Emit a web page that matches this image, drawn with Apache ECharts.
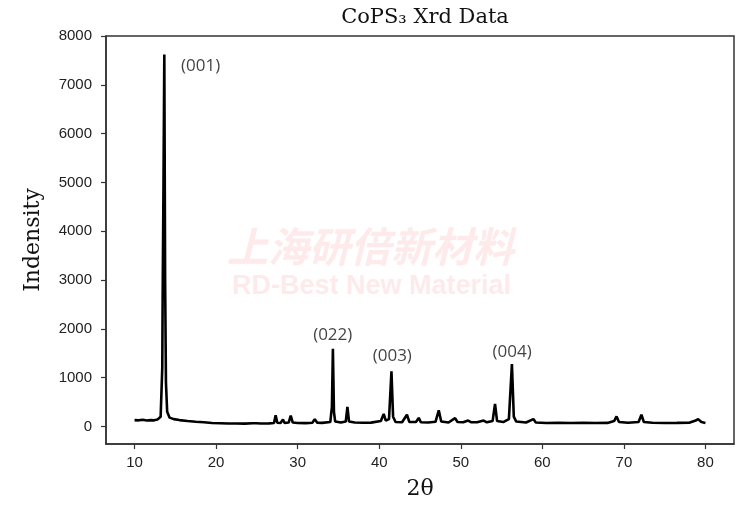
<!DOCTYPE html>
<html>
<head>
<meta charset="utf-8">
<script src="https://cdn.jsdelivr.net/npm/echarts@6/dist/echarts.min.js"></script>
<style>html,body{margin:0;padding:0;background:#fff}#c{width:750px;height:505px}</style>
</head>
<body>
<div id="c"></div>
<script>
const twoTheta = [10.0,10.5,11.0,11.5,12.0,12.4,12.8,13.2,13.4,13.45,13.55,13.65,13.75,13.85,14.0,14.3,14.8,15.5,16.5,17.5,18.5,19.5,20.5,21.5,22.5,23.5,24.5,24.7,24.9,25.5,26.5,27.1,27.3,27.5,27.9,28.2,28.4,28.9,29.15,29.4,30.0,31.0,31.8,32.1,32.4,33.0,34.0,34.2,34.32,34.45,34.6,35.3,35.9,36.1,36.3,37.0,38.0,39.0,40.2,40.55,40.8,41.2,41.5,41.7,42.0,42.8,43.4,43.7,44.5,44.85,45.1,46.0,46.9,47.3,47.6,48.5,49.3,49.6,50.3,50.9,51.3,52.0,52.8,53.2,53.9,54.2,54.45,55.2,55.9,56.27,56.5,56.8,58.0,58.9,59.2,60.5,62.0,63.5,65.0,66.5,68.0,68.8,69.1,69.4,70.5,71.8,72.15,72.45,73.5,75.0,76.5,78.0,78.8,79.1,79.5,80.0];
const intensity = [130,125,135,120,130,125,140,200,1200,2750,5000,7620,3000,900,300,180,150,130,110,95,85,70,65,60,60,58,65,95,65,60,62,70,230,75,70,140,70,80,220,80,70,68,75,150,75,72,90,400,1590,300,100,80,100,400,100,80,75,78,110,255,120,150,1130,200,90,85,240,90,90,175,85,80,95,330,100,80,170,90,85,120,85,85,120,85,110,460,110,90,150,1280,200,100,80,150,80,70,72,70,72,70,72,110,205,90,75,90,240,90,75,70,72,75,120,150,90,70];
const peakLabels = ['(001)','(022)','(003)','(004)'];
const peakLabelX = [18.1,34.3,41.6,56.3];
const peakLabelY = [7390,1880,1430,1530];
const yTicks = [0,1000,2000,3000,4000,5000,6000,7000,8000];
const xTicks = [10,20,30,40,50,60,70,80];

const chart = echarts.init(document.getElementById('c'));
const axisColor = '#333';
chart.setOption({
  animation: false,
  title: {
    text: 'CoPS\u2083 Xrd Data',
    left: 420, top: 2, textAlign: 'center',
    textStyle: {fontFamily: 'DejaVu Serif', fontSize: 21, fontWeight: 'normal', color: '#111'}
  },
  graphic: [
    {type:'text', left: 227, top: 226, z: 0, style: {text:'上海研倍新材料', font:'italic bold 41px "Noto Sans CJK SC"', fill:'#feeaea'}},
    {type:'text', left: 232, top: 273, z: 0, style: {text:'RD-Best New Material', font:'bold 27px "Liberation Sans"', fill:'#feeaea'}}
  ],
  grid: {left: 106, top: 36, right: 16, bottom: 61, show: true, borderColor: axisColor, borderWidth: 1.5, backgroundColor: 'transparent'},
  xAxis: {
    type: 'value', min: 6.5, max: 83.5,
    name: '2\u03b8', nameLocation: 'middle', nameGap: 34,
    nameTextStyle: {fontFamily: 'DejaVu Serif', fontSize: 22, color: '#111'},
    splitLine: {show: false},
    axisLine: {show: true, onZero: false, lineStyle: {color: axisColor, width: 1.5}},
    axisTick: {show: true, length: 5, customValues: xTicks, lineStyle: {color: axisColor, width: 1.2}},
    axisLabel: {customValues: xTicks, margin: 11, fontFamily: 'Liberation Sans', fontSize: 15, color: '#222'}
  },
  yAxis: {
    type: 'value', min: -360, max: 8000,
    name: 'Indensity', nameLocation: 'middle', nameGap: 62, nameRotate: 90,
    nameTextStyle: {fontFamily: 'DejaVu Serif', fontSize: 22, color: '#111'},
    splitLine: {show: false},
    axisLine: {show: true, onZero: false, lineStyle: {color: axisColor, width: 1.5}},
    axisTick: {show: true, length: 5, customValues: yTicks, lineStyle: {color: axisColor, width: 1.2}},
    axisLabel: {customValues: yTicks, formatter: v => String(v), margin: 14, fontFamily: 'Liberation Sans', fontSize: 15, color: '#222'}
  },
  series: [
    {
      type: 'line', showSymbol: false, symbol: 'none',
      data: twoTheta.map((x, i) => [x, intensity[i]]),
      lineStyle: {color: '#000', width: 2.6}, z: 5
    },
    {
      type: 'scatter', symbolSize: 0,
      data: peakLabels.map((n, i) => ({value: [peakLabelX[i], peakLabelY[i]], name: n})),
      label: {show: true, position: 'inside', formatter: p => p.name, fontFamily: 'Open Sans', fontSize: 17, color: '#111'},
      z: 6
    }
  ]
});
</script>
</body>
</html>
